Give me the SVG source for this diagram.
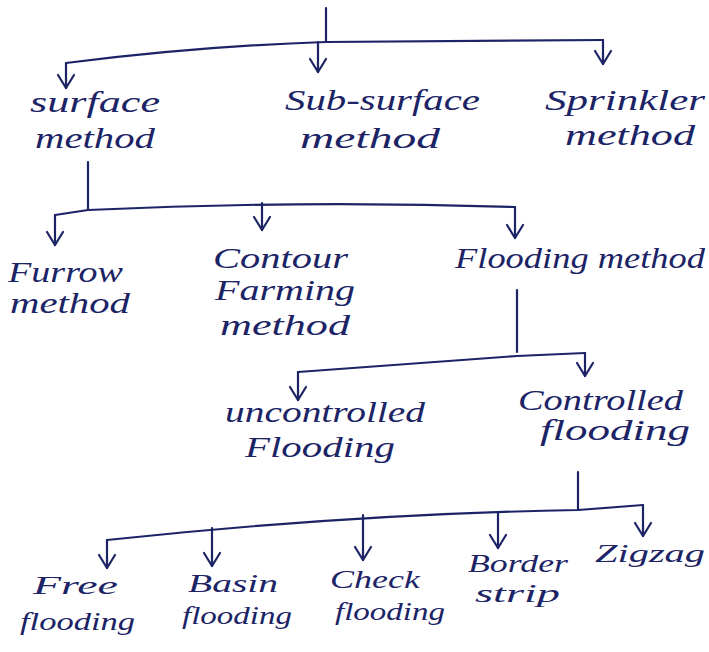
<svg xmlns="http://www.w3.org/2000/svg" width="709" height="652" viewBox="0 0 709 652">
<defs>
<marker id="v" markerUnits="userSpaceOnUse" markerWidth="30" markerHeight="30" refX="0" refY="0" viewBox="-15 -15 30 30" orient="auto" overflow="visible">
<path d="M-13,-8 L0,0 L-13,8" fill="none" stroke="#1c2466" stroke-width="2.2" stroke-linecap="round" stroke-linejoin="round"/>
</marker>
<style>
.l{fill:none;stroke:#1c2466;stroke-width:2.2;stroke-linecap:round;stroke-linejoin:round}
.a{fill:none;stroke:#1c2466;stroke-width:2.2;stroke-linecap:round;marker-end:url(#v)}
text{font-family:"Liberation Serif","DejaVu Serif",serif;font-style:italic;font-size:30px;fill:#1c2466}
.s{font-size:26px}
</style>
</defs>
<rect width="709" height="652" fill="#ffffff"/>
<g id="connectors">
<path class="l" d="M326,8 L326,42"/>
<path class="l" d="M66,63 Q200,46 326,42 L603,40"/>
<path class="a" d="M66,63 L66,88"/>
<path class="a" d="M318,42 L318,72"/>
<path class="a" d="M603,40 L603,64"/>
<path class="l" d="M88,162 L88,210"/>
<path class="l" d="M55,215 L88,210 Q300,200 515,207"/>
<path class="a" d="M55,215 L55,245"/>
<path class="a" d="M262,203 L262,230"/>
<path class="a" d="M515,207 L515,238"/>
<path class="l" d="M517,290 L517,352"/>
<path class="l" d="M298,372 L517,356 L585,353"/>
<path class="a" d="M298,372 L298,400"/>
<path class="a" d="M585,353 L585,376"/>
<path class="l" d="M578,472 L578,510"/>
<path class="l" d="M107,540 Q350,514 578,510 L643,505"/>
<path class="a" d="M107,540 L107,568"/>
<path class="a" d="M212,528 L212,566"/>
<path class="a" d="M363,515 L363,560"/>
<path class="a" d="M498,513 L498,548"/>
<path class="a" d="M643,505 L643,536"/>
</g>
<g id="surface"><text x="30" y="112" textLength="130" lengthAdjust="spacingAndGlyphs">surface</text><text x="35" y="148" textLength="120" lengthAdjust="spacingAndGlyphs">method</text></g>
<g id="subsurface"><text x="285" y="110" textLength="195" lengthAdjust="spacingAndGlyphs">Sub-surface</text><text x="300" y="148" textLength="140" lengthAdjust="spacingAndGlyphs">method</text></g>
<g id="sprinkler"><text x="545" y="110" textLength="160" lengthAdjust="spacingAndGlyphs">Sprinkler</text><text x="565" y="145" textLength="130" lengthAdjust="spacingAndGlyphs">method</text></g>
<g id="furrow"><text x="8" y="282" textLength="115" lengthAdjust="spacingAndGlyphs">Furrow</text><text x="10" y="313" textLength="120" lengthAdjust="spacingAndGlyphs">method</text></g>
<g id="contour"><text x="213" y="268" textLength="135" lengthAdjust="spacingAndGlyphs">Contour</text><text x="215" y="300" textLength="140" lengthAdjust="spacingAndGlyphs">Farming</text><text x="220" y="335" textLength="130" lengthAdjust="spacingAndGlyphs">method</text></g>
<g id="flooding"><text x="455" y="268" textLength="250" lengthAdjust="spacingAndGlyphs">Flooding method</text></g>
<g id="uncontrolled"><text x="225" y="422" textLength="200" lengthAdjust="spacingAndGlyphs">uncontrolled</text><text x="245" y="457" textLength="150" lengthAdjust="spacingAndGlyphs">Flooding</text></g>
<g id="controlled"><text x="518" y="410" textLength="165" lengthAdjust="spacingAndGlyphs">Controlled</text><text x="540" y="440" textLength="150" lengthAdjust="spacingAndGlyphs">flooding</text></g>
<g id="free"><text class="s" x="33" y="594" textLength="85" lengthAdjust="spacingAndGlyphs">Free</text><text class="s" x="20" y="630" textLength="115" lengthAdjust="spacingAndGlyphs">flooding</text></g>
<g id="basin"><text class="s" x="188" y="592" textLength="90" lengthAdjust="spacingAndGlyphs">Basin</text><text class="s" x="182" y="624" textLength="110" lengthAdjust="spacingAndGlyphs">flooding</text></g>
<g id="check"><text class="s" x="330" y="588" textLength="90" lengthAdjust="spacingAndGlyphs">Check</text><text class="s" x="335" y="620" textLength="110" lengthAdjust="spacingAndGlyphs">flooding</text></g>
<g id="border"><text class="s" x="468" y="572" textLength="100" lengthAdjust="spacingAndGlyphs">Border</text><text class="s" x="475" y="602" textLength="85" lengthAdjust="spacingAndGlyphs">strip</text></g>
<g id="zigzag"><text class="s" x="595" y="562" textLength="110" lengthAdjust="spacingAndGlyphs">Zigzag</text></g>
</svg>
